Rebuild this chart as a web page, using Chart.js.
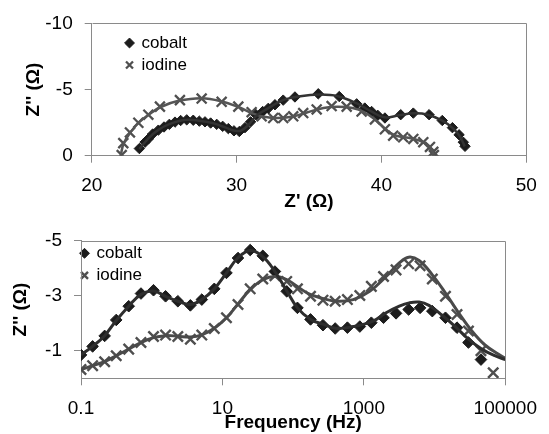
<!DOCTYPE html>
<html>
<head>
<meta charset="utf-8">
<script src="https://cdn.jsdelivr.net/npm/chart.js@4.4.1/dist/chart.umd.min.js"></script>
<style>
  body { margin: 0; background: #fff; }
  .box { position: absolute; left: 0; width: 549px; height: 217px; }
</style>
</head>
<body>
<div class="box" style="top:0"><canvas id="nyquist" width="549" height="217"></canvas></div>
<div class="box" style="top:217px"><canvas id="bode" width="549" height="217"></canvas></div>
<script>
// --- top: Nyquist plot, Z' vs Z'' (ohm) ---
const nyqXTicks = [20, 30, 40, 50];
const nyqYTicks = [-10, -5, 0];

const nyqCobaltRe = [23.29, 23.68, 23.91, 24.21, 24.60, 24.99, 25.36, 25.75, 26.14, 26.56, 27.01, 27.43, 27.82, 28.21, 28.63, 29.04, 29.43, 29.82, 30.19, 30.58, 30.97, 31.34, 31.80, 32.19, 32.65, 33.22, 34.03, 35.64, 37.09, 38.29, 38.85, 39.32, 39.75, 40.24, 41.33, 42.20, 43.29, 44.20, 44.90, 45.36, 45.65, 45.77];
const nyqCobaltIm = [-0.54, -1.02, -1.27, -1.64, -1.93, -2.17, -2.37, -2.54, -2.66, -2.71, -2.68, -2.61, -2.56, -2.47, -2.37, -2.22, -2.05, -1.88, -1.83, -2.12, -2.56, -3.10, -3.34, -3.58, -3.85, -4.20, -4.44, -4.68, -4.47, -3.92, -3.60, -3.34, -3.05, -2.85, -3.10, -3.22, -3.10, -2.66, -2.12, -1.58, -1.02, -0.71];
const nyqIodineRe = [22.07, 22.18, 22.64, 23.22, 23.91, 24.71, 26.09, 27.59, 28.97, 30.12, 31.04, 31.73, 32.53, 33.22, 33.91, 34.60, 35.53, 36.56, 37.60, 38.63, 39.55, 40.24, 40.81, 41.50, 42.20, 42.89, 43.35, 43.58, 43.62];
const nyqIodineIm = [-0.05, -0.95, -1.76, -2.49, -3.10, -3.71, -4.20, -4.32, -4.07, -3.71, -3.29, -2.98, -2.85, -2.85, -2.98, -3.22, -3.50, -3.75, -3.71, -3.34, -2.74, -2.00, -1.51, -1.39, -1.27, -1.02, -0.66, -0.29, -0.05];

const nyqCobaltFitRe = [23.3, 23.9, 24.6, 25.4, 26.4, 27.4, 28.4, 29.3, 29.9, 30.3, 30.8, 31.4, 32.2, 33.2, 34.4, 35.7, 37.0, 38.3, 39.3, 40.2, 41.2, 42.2, 43.2, 44.2, 44.9, 45.4, 45.75];
const nyqCobaltFitIm = [-0.5, -1.3, -1.95, -2.4, -2.7, -2.65, -2.45, -2.1, -1.88, -1.9, -2.3, -3.05, -3.6, -4.2, -4.5, -4.62, -4.5, -3.95, -3.35, -2.9, -3.05, -3.2, -3.1, -2.65, -2.1, -1.5, -0.7];
const nyqIodineFitRe = [22.0, 22.2, 22.7, 23.3, 24.0, 24.8, 26.0, 27.6, 29.0, 30.2, 31.1, 31.9, 32.8, 33.8, 34.8, 36.0, 37.0, 38.0, 38.8, 39.6, 40.3, 40.9, 41.6, 42.3, 42.9, 43.35, 43.6];
const nyqIodineFitIm = [0, -0.9, -1.8, -2.55, -3.15, -3.7, -4.15, -4.35, -4.1, -3.65, -3.2, -2.95, -2.85, -2.95, -3.25, -3.6, -3.7, -3.6, -3.3, -2.7, -2.0, -1.55, -1.4, -1.25, -1.0, -0.65, -0.1];

// --- bottom: Z'' (ohm) vs frequency (Hz) ---
const bodeXTicks = [0.1, 10, 1000, 100000];
const bodeYTicks = [-5, -3, -1];

const freqCobalt = [0.1, 0.146, 0.216, 0.315, 0.473, 0.705, 1.06, 1.57, 2.34, 3.52, 5.11, 7.67, 11.4, 16.6, 24.7, 37.2, 55.2, 81.1, 115, 176, 264, 393, 585, 877, 1276, 1897, 2851, 4295, 6237, 9290, 14256, 20749, 30130, 45290];
const bodeCobalt = [-0.85, -1.16, -1.54, -2.12, -2.62, -3.08, -3.20, -2.98, -2.80, -2.65, -2.86, -3.25, -3.83, -4.37, -4.66, -4.45, -3.88, -3.16, -2.56, -2.14, -1.93, -1.81, -1.84, -1.88, -2.02, -2.20, -2.36, -2.50, -2.56, -2.44, -2.20, -1.84, -1.30, -0.68];
const freqIodine = [0.1, 0.146, 0.216, 0.315, 0.473, 0.705, 1.06, 1.57, 2.34, 3.52, 5.11, 7.67, 11.4, 16.6, 24.7, 37.2, 55.2, 81.1, 115, 176, 264, 393, 585, 877, 1276, 1897, 2851, 4295, 6237, 9290, 14256, 20749, 30130, 45290, 67450];
const bodeIodine = [-0.32, -0.46, -0.60, -0.82, -1.06, -1.30, -1.52, -1.57, -1.52, -1.42, -1.57, -1.81, -2.20, -2.68, -3.25, -3.61, -3.73, -3.52, -3.25, -2.98, -2.84, -2.80, -2.86, -3.01, -3.34, -3.70, -3.94, -4.16, -4.09, -3.61, -2.98, -2.32, -1.72, -1.00, -0.20];

const fitFreqCobalt = [0.1, 0.146, 0.216, 0.315, 0.473, 0.705, 1.06, 1.57, 2.34, 3.52, 5.11, 7.67, 11.4, 16.6, 24.7, 37.2, 55.2, 81.1, 115, 176, 270, 414, 708, 1349, 2065, 3170, 4375, 6039, 8318, 12790, 19630, 30130, 46340, 71120, 100000];
const fitCobalt = [-0.85, -1.16, -1.55, -2.1, -2.62, -3.05, -3.17, -2.98, -2.8, -2.68, -2.86, -3.25, -3.83, -4.38, -4.64, -4.42, -3.88, -3.18, -2.56, -2.14, -1.96, -1.81, -1.88, -2.08, -2.38, -2.62, -2.74, -2.77, -2.65, -2.29, -1.88, -1.42, -1.06, -0.82, -0.68];
const fitFreqIodine = [0.1, 0.146, 0.216, 0.315, 0.473, 0.705, 1.06, 1.57, 2.34, 3.52, 5.11, 7.67, 11.4, 16.6, 24.7, 37.2, 55.2, 82, 158, 270, 414, 708, 1208, 2065, 3170, 4295, 6039, 9290, 14256, 21880, 33650, 51640, 79250, 100000];
const fitIodine = [-0.32, -0.46, -0.61, -0.82, -1.06, -1.3, -1.48, -1.55, -1.53, -1.5, -1.58, -1.82, -2.2, -2.7, -3.22, -3.58, -3.7, -3.58, -3.1, -2.89, -2.8, -2.86, -3.16, -3.7, -4.19, -4.4, -4.28, -3.76, -3.1, -2.38, -1.72, -1.21, -0.88, -0.73];

const AXIS = '#8a8a8a';
const COBALT = '#1c1c1c';
const IODINE = '#4f4f4f';

Chart.defaults.font.family = "'Liberation Sans', Arial, sans-serif";
Chart.defaults.color = '#000';

function pts(xs, ys) {
  return xs.map((x, i) => ({ x: x, y: ys[i] }));
}

// top and right edges of the plot box
const frame = {
  id: 'frame',
  afterDraw(chart) {
    const { ctx, chartArea: a } = chart;
    ctx.save();
    ctx.strokeStyle = AXIS;
    ctx.lineWidth = 1;
    ctx.beginPath();
    ctx.moveTo(Math.round(a.left) + 0.5, Math.round(a.top) + 0.5);
    ctx.lineTo(Math.round(a.right) + 0.5, Math.round(a.top) + 0.5);
    ctx.lineTo(Math.round(a.right) + 0.5, Math.round(a.bottom) + 0.5);
    ctx.stroke();
    ctx.restore();
  }
};

// put the legend inside the plot, top left
const legendSpot = {
  id: 'legendSpot',
  afterLayout(chart, args, opts) {
    chart.legend.left = opts.x;
    chart.legend.top = opts.y;
  }
};

function axis(ticks, fixed) {
  return {
    afterBuildTicks: s => { s.ticks = ticks.map(v => ({ value: v })); },
    ticks: {
      autoSkip: false, maxRotation: 0, padding: 12,
      font: { size: 19 }, color: '#000',
      callback: v => String(v)
    },
    grid: { drawOnChartArea: false, tickLength: 7, color: AXIS },
    border: { color: AXIS },
    afterFit: fixed
  };
}

function legendOpts() {
  return {
    position: 'chartArea',
    align: 'start',
    labels: {
      usePointStyle: true, boxWidth: 7, boxHeight: 7, padding: 5,
      font: { size: 17 }, color: '#000',
      filter: item => item.datasetIndex < 2
    }
  };
}

const topX = axis(nyqXTicks, s => { s.height = 61.3; });
Object.assign(topX, { type: 'linear', min: 20, max: 50 });
topX.title = { display: true, text: "Z' (Ω)", font: { size: 19, weight: 'bold' }, padding: { top: 0, bottom: 4 } };
const topY = axis(nyqYTicks, s => { s.width = 91.7; });
Object.assign(topY, { type: 'linear', min: -10, max: 0, reverse: true });
topY.title = { display: true, text: "Z'' (Ω)", font: { size: 19, weight: 'bold' }, padding: { top: 22.6, bottom: 0 } };

new Chart(document.getElementById('nyquist'), {
  type: 'scatter',
  data: {
    datasets: [
      { label: 'cobalt', data: pts(nyqCobaltRe, nyqCobaltIm), pointStyle: 'rectRot', pointRadius: 5.2,
        backgroundColor: COBALT, borderColor: COBALT, borderWidth: 1, order: 2 },
      { label: 'iodine', data: pts(nyqIodineRe, nyqIodineIm), pointStyle: 'crossRot', pointRadius: 7,
        backgroundColor: IODINE, borderColor: IODINE, borderWidth: 2.3, order: 2 },
      { label: 'cobalt fit', data: pts(nyqCobaltFitRe, nyqCobaltFitIm), showLine: true, pointRadius: 0,
        borderColor: '#333', borderWidth: 2.5, tension: 0.4, order: 1 },
      { label: 'iodine fit', data: pts(nyqIodineFitRe, nyqIodineFitIm), showLine: true, pointRadius: 0,
        borderColor: '#555', borderWidth: 2.5, tension: 0.4, order: 1 }
    ]
  },
  options: {
    responsive: false,
    animation: false,
    layout: { padding: { left: 0, top: 19, right: 22.7, bottom: 0 } },
    scales: { x: topX, y: topY },
    plugins: {
      legend: legendOpts(),
      legendSpot: { x: 121, y: 29.5 },
      tooltip: { enabled: false }
    }
  },
  plugins: [frame, legendSpot]
});

const botX = axis(bodeXTicks, s => { s.height = 55.7; });
Object.assign(botX, { type: 'logarithmic', min: 0.1, max: 100000 });
botX.title = { display: true, text: 'Frequency (Hz)', font: { size: 19, weight: 'bold' }, padding: { top: 0, bottom: 0 } };
const botY = axis(bodeYTicks, s => { s.width = 81; });
Object.assign(botY, { type: 'linear', min: -5, max: 0, reverse: true });
botY.title = { display: true, text: "Z'' (Ω)", font: { size: 19, weight: 'bold' }, padding: { top: 9.6, bottom: 0 } };

new Chart(document.getElementById('bode'), {
  type: 'scatter',
  data: {
    datasets: [
      { label: 'cobalt', data: pts(freqCobalt, bodeCobalt), pointStyle: 'rectRot', pointRadius: 5.8,
        backgroundColor: COBALT, borderColor: COBALT, borderWidth: 1, order: 2 },
      { label: 'iodine', data: pts(freqIodine, bodeIodine), pointStyle: 'crossRot', pointRadius: 7.3,
        backgroundColor: IODINE, borderColor: IODINE, borderWidth: 2.4, order: 2 },
      { label: 'cobalt fit', data: pts(fitFreqCobalt, fitCobalt), showLine: true, pointRadius: 0,
        borderColor: '#2e2e2e', borderWidth: 3, tension: 0.4, order: 1 },
      { label: 'iodine fit', data: pts(fitFreqIodine, fitIodine), showLine: true, pointRadius: 0,
        borderColor: '#4a4a4a', borderWidth: 3, tension: 0.4, order: 1 }
    ]
  },
  options: {
    responsive: false,
    animation: false,
    layout: { padding: { left: 0, top: 23.7, right: 38.3, bottom: 0 } },
    scales: { x: botX, y: botY },
    plugins: {
      legend: legendOpts(),
      legendSpot: { x: 76, y: 22.8 },
      tooltip: { enabled: false }
    }
  },
  plugins: [frame, legendSpot]
});
</script>
</body>
</html>
